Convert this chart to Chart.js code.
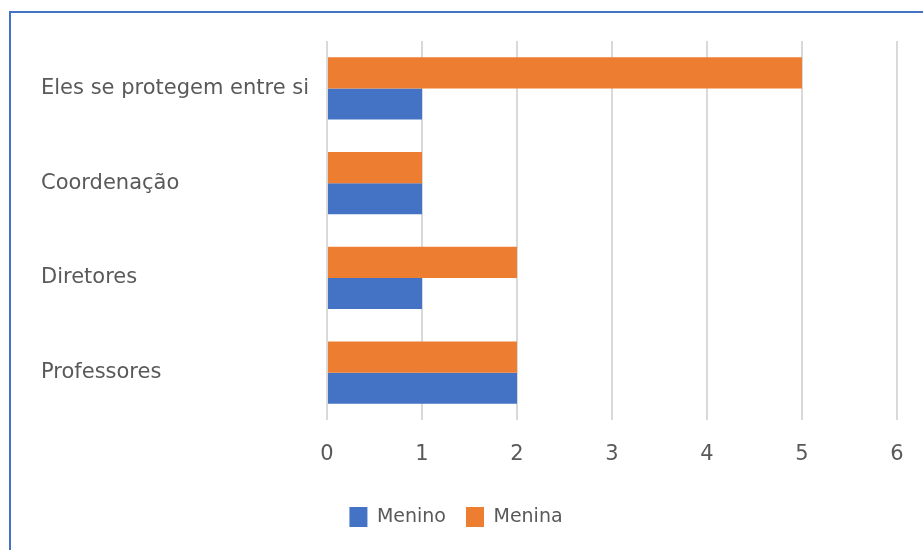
<!DOCTYPE html>
<html>
<head>
<meta charset="utf-8">
<script src="https://cdn.jsdelivr.net/npm/chart.js@4/dist/chart.umd.min.js"></script>
<style>
html,body{margin:0;padding:0;background:#fff;}
#wrap{position:relative;width:923px;height:550px;}
</style>
</head>
<body>
<div id="wrap"><canvas id="c" width="923" height="550"></canvas></div>
<script>
const categories = ["Eles se protegem entre si", "Coordenação", "Diretores", "Professores"];
const meninoValues = [1, 1, 1, 2];
const meninaValues = [5, 1, 2, 2];
const seriesNames = ["Menino", "Menina"];
const xTicks = [0, 1, 2, 3, 4, 5, 6];

const frame = {
  id: 'frame',
  beforeDraw(chart) {
    const ctx = chart.ctx;
    ctx.save();
    ctx.fillStyle = '#fff';
    ctx.fillRect(0, 0, chart.width, chart.height);
    ctx.strokeStyle = '#4472C4';
    ctx.lineWidth = 2;
    ctx.strokeRect(10, 12, 1200, 1200);
    ctx.restore();
  },
  afterLayout(chart) {
    if (chart.legend) {
      chart.legend.left -= 13; chart.legend.right -= 13;
      chart.legend.top -= 11; chart.legend.bottom -= 11;
    }
  }
};

const font = "'DejaVu Sans', sans-serif";

new Chart(document.getElementById('c'), {
  type: 'bar',
  data: {
    labels: categories,
    datasets: [
      { label: seriesNames[1], data: meninaValues, backgroundColor: '#ED7D31', categoryPercentage: 0.655, barPercentage: 1.0 },
      { label: seriesNames[0], data: meninoValues, backgroundColor: '#4472C4', categoryPercentage: 0.655, barPercentage: 1.0 }
    ]
  },
  options: {
    indexAxis: 'y',
    responsive: false,
    animation: false,
    layout: { padding: { left: 41, top: 41, right: 26, bottom: 2 } },
    scales: {
      x: {
        min: 0, max: 6,
        afterBuildTicks(scale) { scale.ticks = xTicks.map(v => ({ value: v })); },
        afterFit(scale) { scale.height = 78; scale.paddingRight = 0; scale.paddingLeft = 0; },
        grid: { color: '#d9d9d9', lineWidth: 2, drawTicks: false },
        border: { display: false },
        ticks: { color: '#595959', font: { family: font, size: 21 }, padding: 22 }
      },
      y: {
        afterFit(scale) { scale.width = 286; },
        grid: { display: false },
        border: { display: false },
        ticks: { color: '#595959', font: { family: font, size: 21 }, crossAlign: 'far', padding: 0 }
      }
    },
    plugins: {
      legend: {
        position: 'bottom',
        reverse: true,
        labels: { color: '#595959', font: { family: font, size: 19 }, boxWidth: 18, boxHeight: 20, padding: 20 }
      },
      tooltip: { enabled: false },
      title: { display: false }
    }
  },
  plugins: [frame]
});
</script>
</body>
</html>
